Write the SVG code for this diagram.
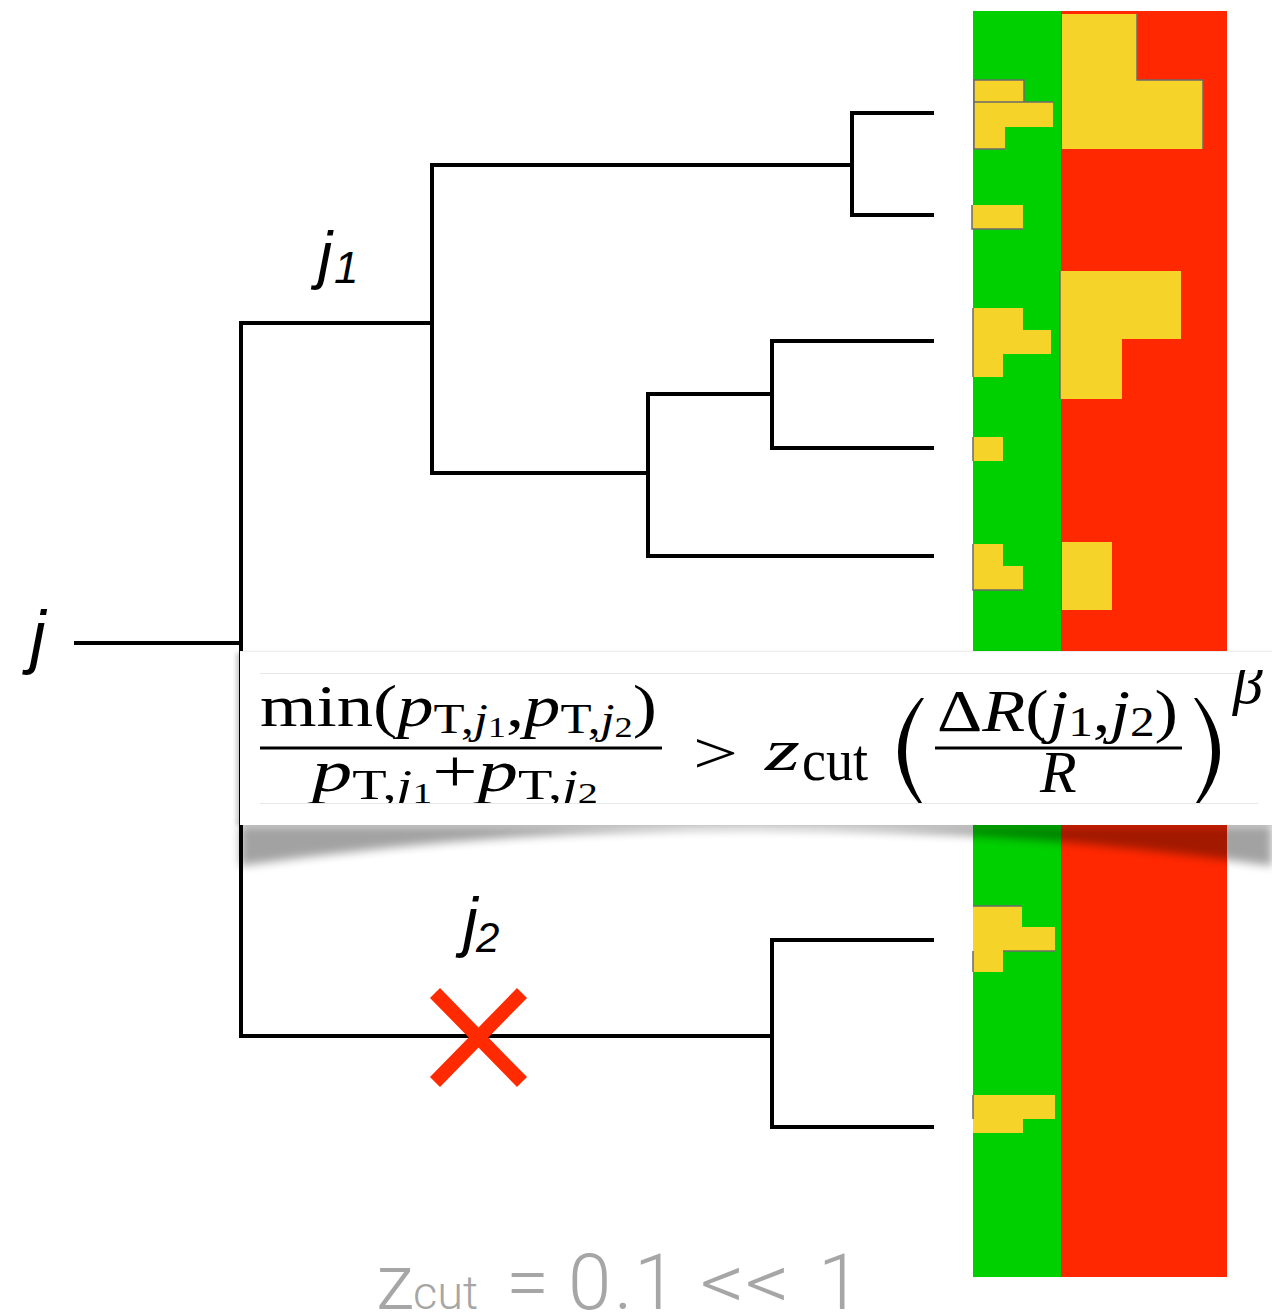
<svg xmlns="http://www.w3.org/2000/svg" width="1272" height="1312" viewBox="0 0 1272 1312">
<style>
.g{fill:#00d000}
.r{fill:#ff2800}
.y{fill:#f5d328}
.edge{fill:none;stroke:#6b6b6b;stroke-width:1.5}
.br{fill:none;stroke:#000;stroke-width:4;stroke-linejoin:miter}
.lab{font-family:"Liberation Sans",Arial,sans-serif;font-style:italic;fill:#000}
.m{font-family:"Liberation Serif","Times New Roman",serif;fill:#000;font-size:60px}
.i{font-style:italic}
.note{font-family:Roboto,"Liberation Sans",sans-serif;font-weight:300;fill:#a6a6a6}
</style>
<defs>
<filter id="blur" x="-10%" y="-50%" width="120%" height="200%"><feGaussianBlur stdDeviation="5"/></filter>
<filter id="blur2" x="-10%" y="-10%" width="120%" height="120%"><feGaussianBlur stdDeviation="2"/></filter>
<clipPath id="fclip"><rect x="240" y="670" width="1032" height="133"/></clipPath>
</defs>
<rect width="1272" height="1312" fill="#fff"/>

<g id="panel">
<rect class="g" x="973" y="11" width="89" height="1266"/>
<rect class="r" x="1061" y="11" width="166" height="1266"/>
<rect class="y" x="974" y="80" width="50" height="22"/>
<polygon class="y" points="974,102 1053,102 1053,127 1005,127 1005,149 974,149"/>
<rect class="y" x="972" y="205" width="51" height="24"/>
<polygon class="y" points="973,308 1023,308 1023,330 1051,330 1051,354 1003,354 1003,377 973,377"/>
<rect class="y" x="973" y="437" width="30" height="24"/>
<polygon class="y" points="973,544 1003,544 1003,566 1023,566 1023,590 973,590"/>
<polygon class="y" points="973,906 1022,906 1022,927 1055,927 1055,951 1003,951 1003,972 973,972"/>
<polygon class="y" points="973,1095 1055,1095 1055,1119 1023,1119 1023,1133 973,1133"/>
<polygon class="y" points="1062,14 1137,14 1137,80 1203,80 1203,149 1062,149"/>
<polygon class="y" points="1060,271 1181,271 1181,339 1122,339 1122,399 1060,399"/>
<rect class="y" x="1062" y="542" width="50" height="68"/>
<path class="edge" d="M974,102V80H1024V102M974,102V149H1005M974,102H1053M972,205V229H1023M1137,14V80H1203V149M1060,271V399M973,308V377M973,437V461M973,544V590H1023M973,906H1022M1003,951H1055M973,951V972M973,1095V1119"/>
</g>

<g id="connectors">
<path class="br" d="M74,643H241"/>
<path class="br" d="M432,323H241V1036H772"/>
<path class="br" d="M852,165H432V473H648"/>
<path class="br" d="M934,113H852V215H934"/>
<path class="br" d="M772,394H648V556H934"/>
<path class="br" d="M934,341H772V448H934"/>
<path class="br" d="M934,940H772V1127H934"/>
</g>

<g id="cut-mark">
<path d="M435,993L522,1082M522,993L435,1082" stroke="#ff2a00" stroke-width="14" fill="none"/>
</g>

<g id="labels">
<text class="lab" x="30" y="660" font-size="70">j</text>
<text class="lab" x="318" y="277" font-size="64">j<tspan x="334" y="283" font-size="44">1</tspan></text>
<text class="lab" x="463" y="944" font-size="66">j<tspan x="476" y="952" font-size="42">2</tspan></text>
</g>

<g id="formula-box">
<path d="M240,825H1272V866Q756,792 240,866Z" fill="#000" opacity="0.36" filter="url(#blur)"/>
<rect x="236" y="653" width="1040" height="172" fill="#000" opacity="0.2" filter="url(#blur2)"/>
<rect x="240" y="651" width="1034" height="174" fill="#fff"/>
<line x1="240" y1="651.5" x2="1272" y2="651.5" stroke="#eeeeee" stroke-width="1"/>
<line x1="260" y1="673.5" x2="1258" y2="673.5" stroke="#e8e8e8" stroke-width="1"/>
<line x1="260" y1="803.5" x2="1258" y2="803.5" stroke="#e8e8e8" stroke-width="1"/>
<g clip-path="url(#fclip)">
<text class="m" x="260" y="726" textLength="397" lengthAdjust="spacingAndGlyphs">min(<tspan class="i">p</tspan><tspan font-size="42" dy="7">T,</tspan><tspan class="i" font-size="42">j</tspan><tspan font-size="30" dy="4">1</tspan><tspan dy="-11">,</tspan><tspan class="i">p</tspan><tspan font-size="42" dy="7">T,</tspan><tspan class="i" font-size="42">j</tspan><tspan font-size="30" dy="4">2</tspan><tspan dy="-11">)</tspan></text>
<rect x="260" y="746.5" width="402" height="3" fill="#000"/>
<text class="m" x="312" y="791" textLength="286" lengthAdjust="spacingAndGlyphs"><tspan class="i">p</tspan><tspan font-size="42" dy="8">T,</tspan><tspan class="i" font-size="42">j</tspan><tspan font-size="30" dy="4">1</tspan><tspan dy="-12">+</tspan><tspan class="i">p</tspan><tspan font-size="42" dy="8">T,</tspan><tspan class="i" font-size="42">j</tspan><tspan font-size="30" dy="4">2</tspan></text>
<text class="m" x="693" y="773" font-size="88" textLength="45" lengthAdjust="spacingAndGlyphs">&gt;</text>
<text class="m i" x="765" y="770" font-size="62" textLength="35" lengthAdjust="spacingAndGlyphs">z</text>
<text class="m" x="802" y="780" font-size="46" textLength="66" lengthAdjust="spacingAndGlyphs">cut</text>
<path d="M921,698Q875,752 921,806L924,806Q888,752 924,698Z" fill="#000"/>
<text class="m" x="937" y="731" textLength="241" lengthAdjust="spacingAndGlyphs">Δ<tspan class="i">R</tspan>(<tspan class="i">j</tspan><tspan font-size="42" dy="5">1</tspan><tspan dy="-5">,</tspan><tspan class="i">j</tspan><tspan font-size="42" dy="5">2</tspan><tspan dy="-5">)</tspan></text>
<rect x="935" y="746.5" width="247" height="3" fill="#000"/>
<text class="m i" x="1040" y="792" font-size="56">R</text>
<path d="M1197,698Q1243,752 1197,806L1194,806Q1230,752 1194,698Z" fill="#000"/>
<text class="m i" x="1233" y="703" font-size="44">β</text>
</g>
</g>

<g id="note">
<text class="note" y="1309" font-size="78"><tspan x="376">z</tspan><tspan x="413" font-size="47">cut</tspan><tspan x="506">=</tspan><tspan x="568">0</tspan><tspan x="614">.</tspan><tspan x="634">1</tspan><tspan x="700" textLength="90" lengthAdjust="spacingAndGlyphs">&lt;&lt;</tspan><tspan x="818">1</tspan></text>
</g>
</svg>
